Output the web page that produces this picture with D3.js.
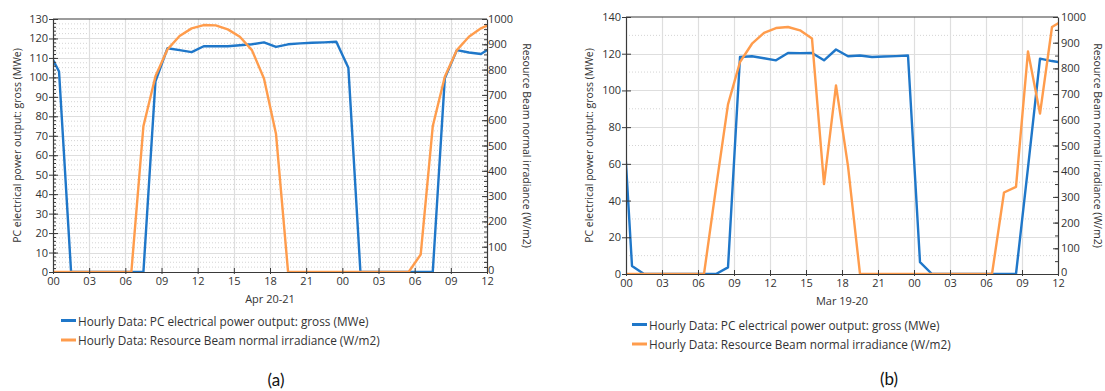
<!DOCTYPE html>
<html><head><meta charset="utf-8">
<script src="https://cdn.jsdelivr.net/npm/d3@7"></script>
<style>
body{margin:0;background:#fff;}
svg{display:block;}
text{font-family:"Open Sans","Noto Sans",sans-serif;}
</style></head><body>
<svg id="c" width="1105" height="391"></svg>
<script>
// hour offsets (hourly data plotted at mid-hour), 00 = start of day 1
const hours = [-0.5,0.5,1.5,2.5,3.5,4.5,5.5,6.5,7.5,8.5,9.5,10.5,11.5,12.5,13.5,14.5,15.5,16.5,17.5,18.5,19.5,20.5,21.5,22.5,23.5,24.5,25.5,26.5,27.5,28.5,29.5,30.5,31.5,32.5,33.5,34.5,35.5,36.5];
const tickHours = [0,3,6,9,12,15,18,21,24,27,30,33,36];
const tickLabels = ["00","03","06","09","12","15","18","21","00","03","06","09","12"];

// Panel (a) Apr 20-21
const powerA = [115,103,0,0,0,0,0,0,0,98,115,114,113,116,116,116,116.5,117,118,115.7,117,117.5,117.8,118,118.3,105,0,0,0,0,0,0,0,99.5,114,112.8,112,116];
const irrA   = [0,0,0,0,0,0,0,0,576,774,880,933,963,976,975,959,930,877,765,545,0,0,0,0,0,0,0,0,0,0,0,69,576,772,877,930,963,985];

// Panel (b) Mar 19-20
const powerB = [116,4.4,0,0,0,0,0,0,0,3.6,118.2,118.6,117.5,116.4,120.4,120.3,120.4,116.4,122.3,118.6,119,118.2,118.5,118.7,119,6.5,0,0,0,0,0,0,0,0,58,117.3,116,115];
const irrB   = [0,0,0,0,0,0,0,0,335,660,825,896,938,957,961,948,916,350,734,420,0,0,0,0,0,0,0,0,0,0,0,0,317,339,866,624,961,990];

const leftTicksA = [0,10,20,30,40,50,60,70,80,90,100,110,120,130];
const leftTicksB = [0,20,40,60,80,100,120,140];
const rightTicks = [0,100,200,300,400,500,600,700,800,900,1000];

const leftTitle = "PC electrical power output: gross (MWe)";
const rightTitle = "Resource Beam normal irradiance (W/m2)";
const legendLabels = ["Hourly Data: PC electrical power output: gross (MWe)","Hourly Data: Resource Beam normal irradiance (W/m2)"];

const BLUE = "#1f77c9", ORANGE = "#ff9c4c";
const svg = d3.select("#c");

function panel(p){
  const g = svg.append("g");
  const x = d3.scaleLinear().domain([0,36]).range([p.x0,p.x1]);
  const yL = d3.scaleLinear().domain([0,p.lmax]).range([p.y1,p.y0]);
  const yR = d3.scaleLinear().domain([0,1000]).range([p.y1,p.y0]);

  // minor dotted grid
  const minor = d3.range(0,p.lmax+1e-6,p.minorGrid).filter(v=>!p.lticks.some(t=>Math.abs(t-v)<1e-6));
  g.selectAll(null).data(minor).join("line")
    .attr("x1",p.x0).attr("x2",p.x1).attr("y1",d=>yL(d)).attr("y2",d=>yL(d))
    .attr("stroke","#d4d4d4").attr("stroke-width",1).attr("stroke-dasharray","1,2");
  // major horizontal grid
  g.selectAll(null).data(p.lticks.slice(1,-1)).join("line")
    .attr("x1",p.x0).attr("x2",p.x1).attr("y1",d=>Math.round(yL(d))+0.5).attr("y2",d=>Math.round(yL(d))+0.5)
    .attr("stroke","#dedede").attr("stroke-width",1.2);
  // vertical grid
  g.selectAll(null).data(tickHours.slice(1,-1)).join("line")
    .attr("y1",p.y0).attr("y2",p.y1).attr("x1",d=>Math.round(x(d))+0.5).attr("x2",d=>Math.round(x(d))+0.5)
    .attr("stroke","#dedede").attr("stroke-width",1.2);

  // clip
  svg.append("clipPath").attr("id","clip"+p.id).append("rect")
    .attr("x",p.x0).attr("y",p.y0-2).attr("width",p.x1-p.x0).attr("height",p.y1-p.y0+2);
  const lg = g.append("g").attr("clip-path","url(#clip"+p.id+")");
  lg.append("path").datum(p.power)
    .attr("d",d3.line().x((d,i)=>x(hours[i])).y(d=>yL(d)))
    .attr("fill","none").attr("stroke",BLUE).attr("stroke-width",2.4).attr("stroke-linejoin","round");
  lg.append("path").datum(p.irr)
    .attr("d",d3.line().x((d,i)=>x(hours[i])).y(d=>yR(d)))
    .attr("fill","none").attr("stroke",ORANGE).attr("stroke-width",2.4).attr("stroke-linejoin","round");

  const axStyle = sel=>{
    sel.select(".domain").attr("stroke","#3a3a3a").attr("stroke-width",1.2);
    sel.selectAll(".tick line").attr("stroke","#3a3a3a");
    sel.selectAll("text").attr("fill","#333").style("font-size","11px").style("font-family",'"Open Sans","Noto Sans",sans-serif');
  };
  // top frame
  g.append("line").attr("x1",p.x0).attr("x2",p.x1).attr("y1",p.y0).attr("y2",p.y0).attr("stroke","#3a3a3a").attr("stroke-width",1.2);

  // minor ticks left (inside)
  if(p.leftMinor){
    g.append("g").attr("transform",`translate(${p.x0},0)`)
      .call(d3.axisLeft(yL).tickValues(d3.range(0,p.lmax+1e-6,p.leftMinor)).tickSize(-3).tickFormat(""))
      .call(s=>{s.select(".domain").remove();s.selectAll(".tick line").attr("stroke","#3a3a3a");});
  }
  // left axis inner major ticks
  g.append("g").attr("transform",`translate(${p.x0},0)`)
    .call(d3.axisLeft(yL).tickValues(p.lticks).tickSize(-5).tickFormat(""))
    .call(s=>{s.select(".domain").remove();s.selectAll(".tick line").attr("stroke","#3a3a3a");});
  // left axis
  g.append("g").attr("transform",`translate(${p.x0},0)`)
    .call(d3.axisLeft(yL).tickValues(p.lticks).tickSizeInner(4).tickSizeOuter(0).tickPadding(p.lpad))
    .call(axStyle);

  // right minor ticks
  g.append("g").attr("transform",`translate(${p.x1},0)`)
    .call(d3.axisRight(yR).tickValues(d3.range(0,1000.1,p.rightMinor)).tickSize(-3).tickFormat(""))
    .call(s=>{s.select(".domain").remove();s.selectAll(".tick line").attr("stroke","#3a3a3a");});
  // right axis
  g.append("g").attr("transform",`translate(${p.x1},0)`)
    .call(d3.axisRight(yR).tickValues(rightTicks).tickFormat(d3.format("d")).tickSizeInner(-5).tickSizeOuter(0).tickPadding(p.rpad))
    .call(axStyle)
    .call(s=>s.selectAll(".tick text").filter(d=>d===0).attr("dy","0.1em"));

  // bottom inner ticks
  g.append("g").attr("transform",`translate(0,${p.y1})`)
    .call(d3.axisBottom(x).tickValues(tickHours).tickSize(-4).tickFormat(""))
    .call(s=>{s.select(".domain").remove();s.selectAll(".tick line").attr("stroke","#3a3a3a");});
  // bottom axis
  g.append("g").attr("transform",`translate(0,${p.y1})`)
    .call(d3.axisBottom(x).tickValues(tickHours).tickFormat((d,i)=>tickLabels[i]).tickSizeInner(2).tickSizeOuter(0).tickPadding(3))
    .call(axStyle);

  // axis titles
  const cy = (p.y0+p.y1)/2;
  g.append("text").attr("transform",`translate(${p.ltx},${cy}) rotate(-90)`)
    .attr("text-anchor","middle").attr("dominant-baseline","central")
    .attr("fill","#333").style("font-size","10.5px").text(leftTitle);
  g.append("text").attr("transform",`translate(${p.rtx},${cy}) rotate(90)`)
    .attr("text-anchor","middle").attr("dominant-baseline","central")
    .attr("fill","#333").style("font-size","10.5px").text(rightTitle);

  // date label
  g.append("text").attr("x",(p.x0+p.x1)/2).attr("y",p.dateY)
    .attr("text-anchor","middle").attr("fill","#333").style("font-size","11px").text(p.date);

  // legend
  [BLUE,ORANGE].forEach((c,i)=>{
    const yy = p.legY + i*19.5;
    g.append("line").attr("x1",p.legX).attr("x2",p.legX+15).attr("y1",yy).attr("y2",yy)
      .attr("stroke",c).attr("stroke-width",3);
    g.append("text").attr("x",p.legX+17).attr("y",yy).attr("dominant-baseline","central")
      .attr("fill","#333").style("font-size","11.8px").text(legendLabels[i]);
  });

  // panel caption
  g.append("text").attr("x",p.capX).attr("y",p.capY).attr("text-anchor","middle")
    .attr("dominant-baseline","central").attr("fill","#111")
    .style("font-family","Lato,'Open Sans',sans-serif").style("font-size","17px").text(p.cap);
}

panel({id:"a",x0:53,x1:487,y0:19,y1:272,lmax:130,lticks:leftTicksA,minorGrid:2.5,leftMinor:2,rightMinor:20,
  power:powerA,irr:irrA,lpad:1,rpad:1,ltx:17,rtx:527,date:"Apr 20-21",dateY:303,legX:61,legY:320.5,capX:276,capY:379,cap:"(a)"});
panel({id:"b",x0:626,x1:1058,y0:17,y1:274,lmax:140,lticks:leftTicksB,minorGrid:10,leftMinor:null,rightMinor:50,
  power:powerB,irr:irrB,lpad:1,rpad:3,ltx:589,rtx:1098,date:"Mar 19-20",dateY:305,legX:632,legY:324.5,capX:889,capY:378,cap:"(b)"});
</script>
</body></html>
